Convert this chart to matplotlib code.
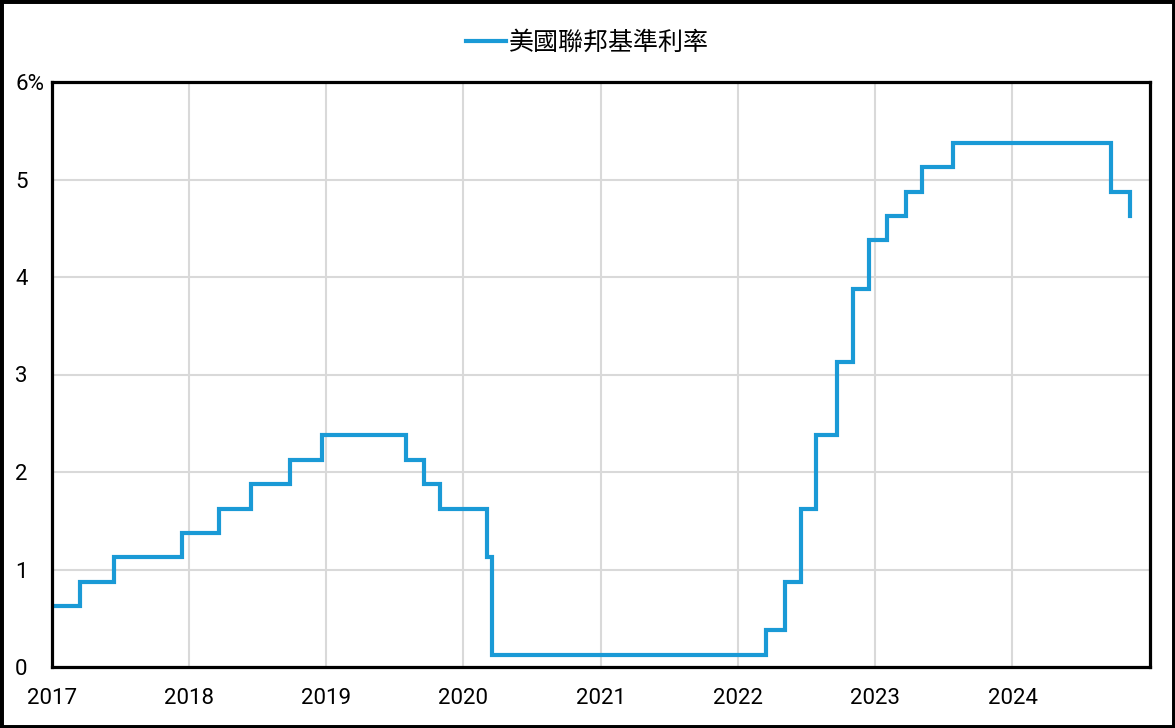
import numpy as np
import pandas as pd
import matplotlib
matplotlib.use("Agg")
import matplotlib.pyplot as plt
import matplotlib.dates as mdates
from matplotlib.patches import Rectangle

# Fecha de cada cambio ---- tasa (punto medio del rango objetivo)
fechas = ["2017-01-01", "2017-03-16", "2017-06-15", "2017-12-14", "2018-03-22",
          "2018-06-14", "2018-09-27", "2018-12-20", "2019-08-01", "2019-09-19",
          "2019-10-31", "2020-03-04", "2020-03-16", "2022-03-17", "2022-05-05",
          "2022-06-16", "2022-07-28", "2022-09-22", "2022-11-03", "2022-12-15",
          "2023-02-02", "2023-03-23", "2023-05-04", "2023-07-27", "2024-09-19",
          "2024-11-08"]
tasa = [0.625, 0.875, 1.125, 1.375, 1.625,
        1.875, 2.125, 2.375, 2.125, 1.875,
        1.625, 1.125, 0.125, 0.375, 0.875,
        1.625, 2.375, 3.125, 3.875, 4.375,
        4.625, 4.875, 5.125, 5.375, 4.875,
        4.625]
serie = "美國聯邦基準利率"
anios = list(range(2017, 2025))
y_ticks = [0, 1, 2, 3, 4, 5, 6]
y_labels = ["0", "1", "2", "3", "4", "5", "6%"]

fechas = pd.to_datetime(fechas)

plt.rcParams['font.family'] = ['Roboto', 'Noto Sans CJK TC', 'DejaVu Sans']
fig = plt.figure(figsize=(11.75, 7.28), dpi=100)
ax = fig.add_axes([52/1175, 1-667/728, (1150-52)/1175, (667-82)/728])

ax.plot(fechas, tasa, drawstyle='steps-post', color='#1a9ad6', lw=3,
        label=serie, solid_joinstyle='miter')

ax.set_xlim(pd.Timestamp("2017-01-01"), pd.Timestamp("2025-01-01"))
ax.set_ylim(0, 6)
ax.set_xticks([pd.Timestamp(f"{a}-01-01") for a in anios])
ax.xaxis.set_major_formatter(mdates.DateFormatter('%Y'))
ax.set_yticks(y_ticks)
ax.set_yticklabels(y_labels, ha='left')
ax.tick_params(axis='y', length=0, pad=26.5, labelsize=16)
ax.tick_params(axis='x', length=0, pad=15, labelsize=16)
ax.grid(True, color='#d9d9d9', lw=1.5)
ax.set_axisbelow(True)
for s in ax.spines.values():
    s.set_linewidth(2.3)
    s.set_color('black')

fig.legend(loc='upper center', bbox_to_anchor=(0.5, 0.99), frameon=False,
           prop={'family': ['Noto Sans CJK TC', 'DejaVu Sans'], 'size': 18},
           handlelength=1.6, handletextpad=0.15)

fig.patches.append(Rectangle((0, 0), 1, 1, transform=fig.transFigure,
                             fill=False, edgecolor='black', lw=5))

plt.savefig("out.png", dpi=100)
